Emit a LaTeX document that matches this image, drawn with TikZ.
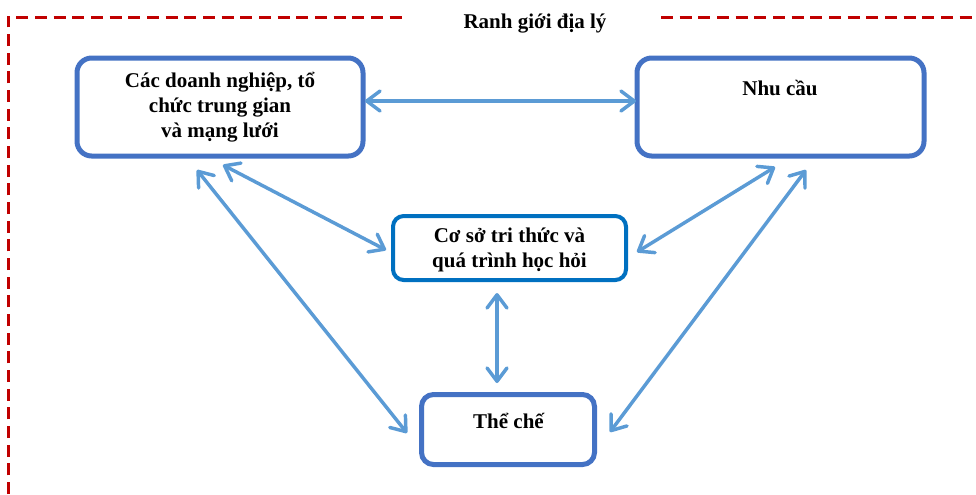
\documentclass[tikz,border=0pt]{standalone}
\usepackage{fontspec}
\setmainfont{Liberation Serif}
\usetikzlibrary{arrows.meta,calc}
\definecolor{boxblue}{RGB}{68,114,196}
\definecolor{cblue}{RGB}{0,112,192}
\definecolor{arrblue}{RGB}{91,155,213}
\definecolor{framered}{RGB}{192,0,0}
\tikzset{
  boxstyle/.style={draw=boxblue, line width=3.75pt, rounded corners=11pt, inner sep=0pt, outer sep=0pt, fill=white},
  lbl/.style={font=\bfseries\fontsize{15.75}{18.75}\selectfont, align=center, inner sep=0pt},
  link/.style={draw=arrblue, line width=2.6pt, line cap=round, {Straight Barb[length=10pt,width=15pt,round]}-{Straight Barb[length=10pt,width=15pt,round]}},
  frame/.style={draw=framered, line width=2.25pt, dash pattern=on 9pt off 5pt}
}
\begin{document}
\begin{tikzpicture}[x=0.75pt,y=-0.75pt]
\useasboundingbox (0,0) rectangle (976,494);
% frame
\coordinate (f1) at (8,494);
\coordinate (f2) at (8,17);
\coordinate (f3) at (408,17);
\coordinate (f4) at (661,17);
\coordinate (f5) at (980,17);
\draw[frame] (f1) -- (f2) -- (f3);
\draw[frame] (f4) -- (f5);
\node[lbl, anchor=base] (title) at (535,28) {Ranh giới địa lý};
% boxes
\node[boxstyle, minimum width=214.5pt, minimum height=73.5pt] (A) at (220,107) {};
\node[boxstyle, minimum width=215.25pt, minimum height=73.5pt] (B) at (780.5,107) {};
\node[boxstyle, draw=cblue, line width=3pt, rounded corners=8pt, minimum width=174.75pt, minimum height=48pt] (C) at (509.5,248) {};
\node[boxstyle, rounded corners=9pt, minimum width=129.75pt, minimum height=52.5pt] (D) at (508,429.5) {};
% texts
\node[lbl, anchor=base] (At) at (220,137) {Các doanh nghiệp, tổ\\chức trung gian\\và mạng lưới};
\node[lbl, anchor=base] (Bt) at (780,95) {Nhu cầu};
\node[lbl, anchor=base] (Ct) at (509.5,267) {Cơ sở tri thức và\\quá trình học hỏi};
\node[lbl, anchor=base] (Dt) at (508.5,428) {Thể chế};
% connectors
\draw[link] ($(A.east)+(2,-6)$) -- ($(B.west)+(-1,-6)$);
\draw[link] ($(A.south)+(3,9)$) -- ($(C.west)+(-7,2)$);
\draw[link] ($(A.south)+(-23,14)$) -- ($(D.west)+(-14.5,3.5)$);
\draw[link] ($(B.south)+(-5.5,11)$) -- ($(C.east)+(11,4)$);
\draw[link] ($(B.south)+(25.5,14)$) -- ($(D.east)+(15.5,2.5)$);
\draw[link] ($(C.south)+(-12.5,13)$) -- ($(D.north)+(-11,-11.5)$);
\end{tikzpicture}
\end{document}
